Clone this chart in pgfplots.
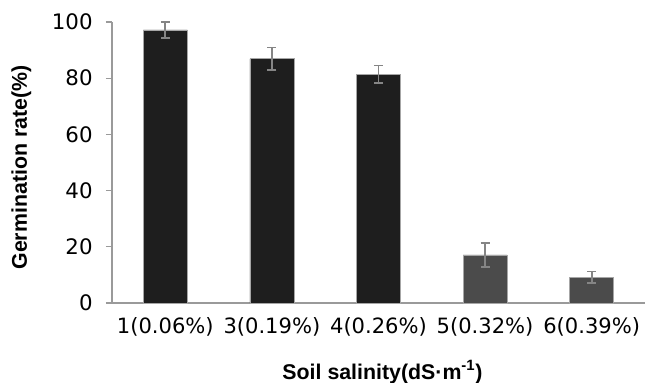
\documentclass[border=0pt]{standalone}
\usepackage{pgfplots}
\pgfplotsset{compat=1.18}
\usepackage{fontspec}
\setmainfont{DejaVu Sans}
\newfontfamily\labfont{Liberation Sans}
\definecolor{barA}{HTML}{1E1E1E}
\definecolor{barB}{HTML}{4B4B4B}
\definecolor{errc}{HTML}{858585}
\definecolor{axc}{HTML}{9A9A9A}
\begin{document}
\begin{tikzpicture}
\path[use as bounding box] (-84pt,-59.25pt) rectangle (408pt,227.25pt);
\begin{axis}[
  at={(0,0)}, anchor=origin,
  scale only axis,
  width=399.75pt, height=210.75pt,
  xmin=0.5, xmax=5.5, ymin=0, ymax=100,
  axis x line*=bottom, axis y line*=left,
  axis line style={axc, line width=0.8pt, -},
  ytick={0,20,40,60,80,100},
  xtick={1,2,3,4,5},
  xticklabels={1(0.06\%),3(0.19\%),4(0.26\%),5(0.32\%),6(0.39\%)},
  x tick style={draw=none},
  y tick style={axc, line width=0.8pt},
  extra x ticks={0.5,1.5,2.5,3.5,4.5,5.5},
  extra x tick labels={},
  extra x tick style={tick style={draw=axc, line width=0.8pt}},
  tick align=outside,
  major tick length=4.5pt,
  /pgf/number format/assume math mode=true,
  xticklabel style={font=\fontsize{15.8}{17}\selectfont, black, yshift=-2.5pt},
  yticklabel style={font=\fontsize{16}{18}\selectfont, black, xshift=-6.5pt},
  ylabel={\labfont\bfseries Germination rate(\%)},
  xlabel={\labfont\bfseries Soil salinity(dS·m\textsuperscript{-1})},
  label style={font=\fontsize{16}{18}\selectfont},
  ylabel style={at={(axis description cs:-0.17,0.482)}, anchor=center},
  xlabel style={at={(axis description cs:0.5075,-0.2705)}, anchor=base},
  ybar, bar width=33pt, bar shift=0pt,
  error bars/y dir=both, error bars/y explicit,
  error bars/error bar style={errc, line width=1.3pt},
  error bars/error mark options={errc, rotate=90, mark size=3.4pt, line width=1.3pt},
  clip=false,
]
\addplot[fill=barA, draw=gray!70, line width=0.5pt] table[x=x, y=y, y error=e] {
x y e
1 97.2 2.9
2 86.9 4.0
3 81.4 3.1
};
\addplot[fill=barB, draw=gray!70, line width=0.5pt] table[x=x, y=y, y error=e] {
x y e
4 17.1 4.2
5 9.2 2.0
};
\end{axis}
\end{tikzpicture}
\end{document}
